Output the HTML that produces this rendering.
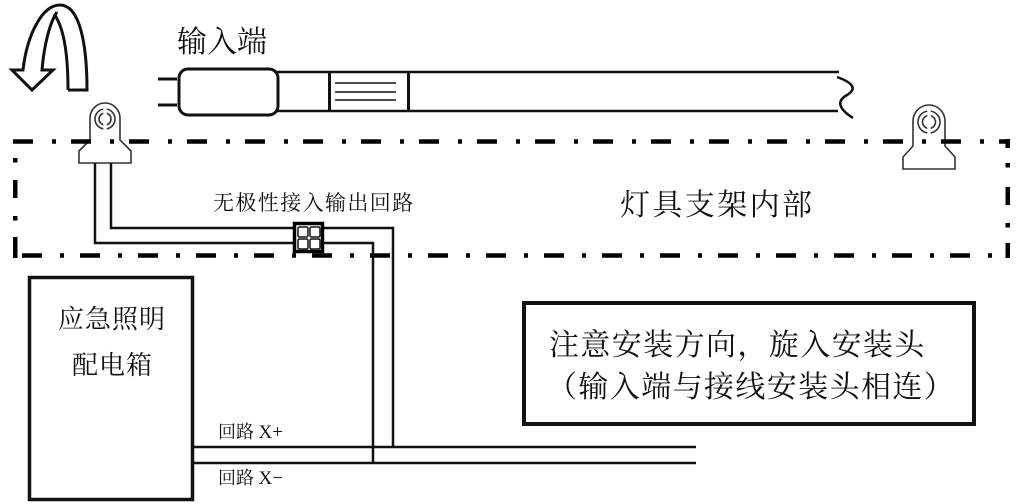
<!DOCTYPE html>
<html>
<head>
<meta charset="utf-8">
<style>
  html,body{margin:0;padding:0;background:#fff;}
  body{width:1026px;height:504px;overflow:hidden;}
  svg{display:block;}
  .cjk{font-family:"Liberation Serif","Noto Serif CJK SC",serif;fill:#111;}
</style>
</head>
<body>
<svg width="1026" height="504" viewBox="0 0 1026 504" xmlns="http://www.w3.org/2000/svg">
  <rect width="1026" height="504" fill="#fff"/>

  <!-- rotation arrow -->
  <path d="M68,90 L87,90 C87,45 80,5 60,5 C42,5 27,35 23,70 L12,70 L32,90 L53,70 L42,70 C44,45 50,22 57,12"
        fill="#fff" stroke="#111" stroke-width="3" stroke-linejoin="miter"/>
  <path d="M68,90 C68,50 63,26 54,14" fill="none" stroke="#111" stroke-width="3"/>

  <!-- 输入端 label -->
  <text class="cjk" x="177" y="52" font-size="30">输入端</text>

  <!-- tube pins -->
  <line x1="158" y1="79" x2="177" y2="79" stroke="#111" stroke-width="3"/>
  <line x1="158" y1="105" x2="177" y2="105" stroke="#111" stroke-width="3"/>
  <!-- tube body -->
  <line x1="276" y1="72" x2="839" y2="72" stroke="#111" stroke-width="2.5"/>
  <line x1="276" y1="111" x2="838" y2="111" stroke="#111" stroke-width="2.5"/>
  <!-- end cap -->
  <rect x="179" y="69" width="99" height="46" rx="9" ry="9" fill="#fff" stroke="#111" stroke-width="3"/>
  <!-- label box -->
  <line x1="329.5" y1="72" x2="329.5" y2="111" stroke="#111" stroke-width="3"/>
  <line x1="408.5" y1="72" x2="408.5" y2="111" stroke="#111" stroke-width="3"/>
  <line x1="335" y1="83" x2="396" y2="83" stroke="#111" stroke-width="1.5"/>
  <line x1="335" y1="92" x2="396" y2="92" stroke="#111" stroke-width="1.5"/>
  <line x1="335" y1="100" x2="396" y2="100" stroke="#111" stroke-width="1.5"/>
  <!-- tube break -->
  <path d="M837,77 Q862,86 847,95 Q831,104 853,118" fill="none" stroke="#111" stroke-width="2.5"/>

  <!-- left lamp holder -->
  <path d="M79,163 L79,151 L90,140 L90,118 A15,15 0 0 1 120,118 L120,140 L131,151 L131,163 Z"
        fill="#fff" stroke="#333" stroke-width="1.6"/>
  <circle cx="105" cy="119" r="10" fill="none" stroke="#333" stroke-width="1.6"/>
  <circle cx="105" cy="119" r="6" fill="none" stroke="#333" stroke-width="1.6"/>
  <rect x="103.3" y="106" width="3.4" height="26" fill="#fff"/>

  <!-- right lamp holder -->
  <path d="M903,169 L903,157 L913,146 L913,121 A16,16 0 0 1 945,121 L945,146 L955,157 L955,169 Z"
        fill="#fff" stroke="#333" stroke-width="1.6"/>
  <circle cx="929" cy="122" r="11" fill="none" stroke="#333" stroke-width="1.6"/>
  <circle cx="929" cy="122" r="6.5" fill="none" stroke="#333" stroke-width="1.6"/>
  <rect x="927.3" y="108" width="3.4" height="28" fill="#fff"/>

  <!-- dash-dot box -->
  <line x1="13" y1="141.5" x2="1010" y2="141.5" stroke="#000" stroke-width="4.5" stroke-dasharray="20 19 4 15"/>
  <line x1="22" y1="255.5" x2="1010" y2="255.5" stroke="#000" stroke-width="4.5" stroke-dasharray="20 18 4 16"/>
  <!-- left edge -->
  <rect x="13" y="158" width="4.5" height="4.5" fill="#000"/>
  <rect x="13" y="180" width="4.5" height="18" fill="#000"/>
  <rect x="13" y="216" width="4.5" height="4.5" fill="#000"/>
  <rect x="13" y="237" width="4.5" height="21" fill="#000"/>
  <!-- right edge -->
  <rect x="1005.5" y="139" width="4.5" height="9" fill="#000"/>
  <rect x="1005.5" y="163" width="4.5" height="4.5" fill="#000"/>
  <rect x="1005.5" y="187" width="4.5" height="18" fill="#000"/>
  <rect x="1005.5" y="223" width="4.5" height="4.5" fill="#000"/>
  <rect x="1005.5" y="243" width="4.5" height="15" fill="#000"/>

  <!-- labels inside box -->
  <text class="cjk" x="213" y="210" font-size="21" letter-spacing="1.4">无极性接入输出回路</text>
  <text class="cjk" x="620" y="215" font-size="30" letter-spacing="2.4">灯具支架内部</text>

  <!-- wires -->
  <g fill="none" stroke="#111" stroke-width="2.5">
    <polyline points="95,163 95,243 294,243"/>
    <polyline points="111,163 111,228 294,228"/>
    <polyline points="323,228 393,228 393,447"/>
    <polyline points="323,243 373,243 373,463"/>
    <line x1="192" y1="447" x2="696" y2="447"/>
    <line x1="192" y1="463" x2="696" y2="463"/>
  </g>

  <!-- connector -->
  <rect x="294.5" y="223.5" width="28" height="28" fill="#fff" stroke="#000" stroke-width="3.5"/>
  <rect x="298" y="227" width="10" height="10" rx="1.5" fill="#fff" stroke="#111" stroke-width="1.5"/>
  <rect x="310" y="227" width="10" height="10" rx="1.5" fill="#fff" stroke="#111" stroke-width="1.5"/>
  <rect x="298" y="239" width="10" height="10" rx="1.5" fill="#fff" stroke="#111" stroke-width="1.5"/>
  <rect x="310" y="239" width="10" height="10" rx="1.5" fill="#fff" stroke="#111" stroke-width="1.5"/>

  <!-- distribution box -->
  <rect x="29.5" y="277.5" width="163" height="222" fill="#fff" stroke="#111" stroke-width="3.5"/>
  <text class="cjk" x="58" y="328" font-size="26" letter-spacing="1">应急照明</text>
  <text class="cjk" x="72" y="374" font-size="26" letter-spacing="1">配电箱</text>

  <!-- circuit labels -->
  <text class="cjk" x="218" y="438" font-size="18">回路 <tspan font-size="19">X+</tspan></text>
  <text class="cjk" x="218" y="484" font-size="18">回路 <tspan font-size="19">X−</tspan></text>

  <!-- note box -->
  <rect x="524" y="303" width="450" height="121" fill="#fff" stroke="#111" stroke-width="4"/>
  <text class="cjk" x="549" y="355" font-size="30" letter-spacing="1.4">注意安装方向，旋入安装头</text>
  <text class="cjk" x="547" y="397" font-size="30" letter-spacing="1.4">（输入端与接线安装头相连）</text>
</svg>
</body>
</html>
